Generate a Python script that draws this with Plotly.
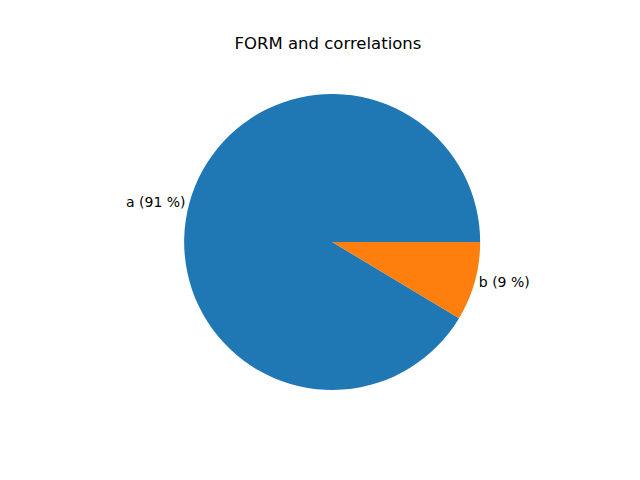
import plotly.graph_objects as go

# данные
labels = ["a", "b"]
shares = [0.914, 0.086]
colors = ["#1f77b4", "#ff7f0e"]

texts = [f"{lab} ({round(v * 100)} %)" for lab, v in zip(labels, shares)]

# первый сектор заканчивается на 3 часах, как в matplotlib (против часовой от 0°)
start_angle = 90 + 360 * shares[1] / sum(shares)

fig = go.Figure()
fig.add_trace(go.Pie(
    labels=labels,
    values=shares,
    text=texts,
    textinfo="text",
    textposition="outside",
    sort=False,
    direction="clockwise",
    rotation=start_angle,
    marker=dict(colors=colors, line=dict(width=0)),
    textfont=dict(size=14, color="black", family="DejaVu Sans"),
    domain=dict(x=[0.0, 0.9], y=[98 / 480, 394 / 480]),
    showlegend=False,
    hoverinfo="label+percent",
))

fig.update_layout(
    width=640,
    height=480,
    margin=dict(l=0, r=0, t=0, b=0),
    paper_bgcolor="white",
    plot_bgcolor="white",
    title=dict(
        text="FORM and correlations",
        x=0.5,
        xanchor="center",
        y=1 - 35 / 480,
        yanchor="middle",
        font=dict(size=16.5, family="DejaVu Sans", color="black"),
    ),
)

fig.write_html("out.html")
